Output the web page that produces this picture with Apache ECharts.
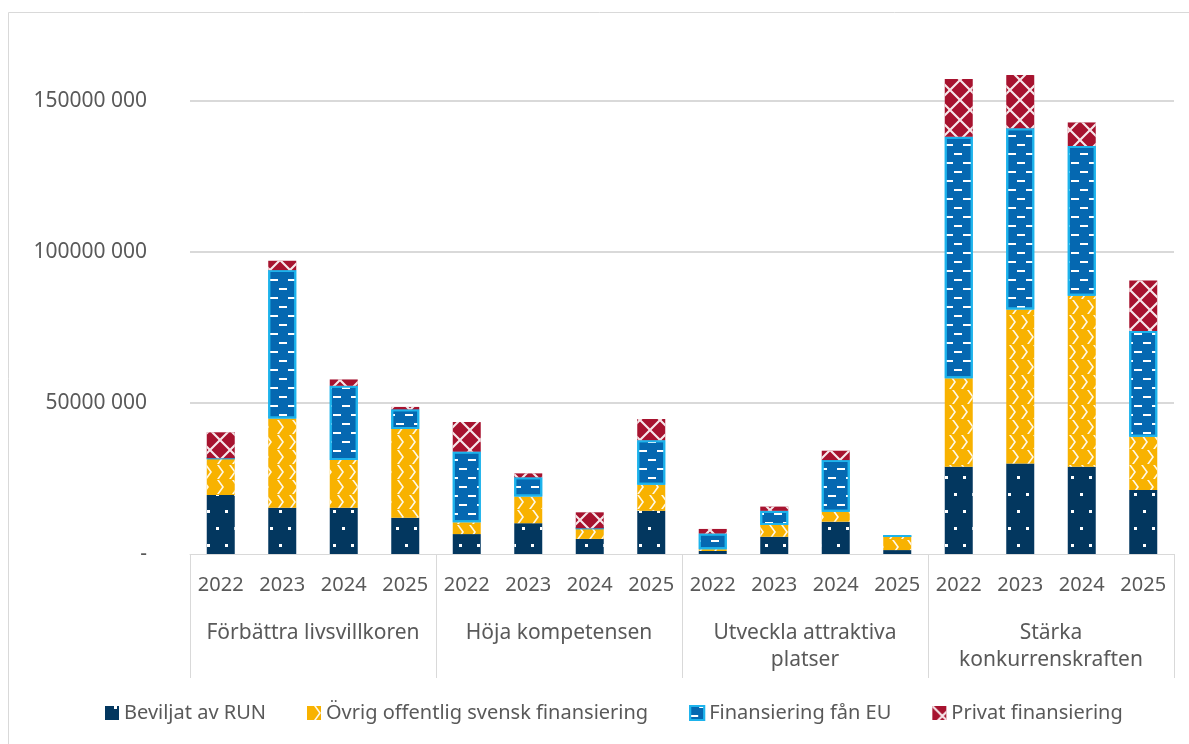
<!DOCTYPE html>
<html>
<head>
<meta charset="utf-8">
<script src="https://cdn.jsdelivr.net/npm/echarts@6/dist/echarts.min.js"></script>
<style>
  html, body { margin: 0; padding: 0; background: #fff; }
  #chart { width: 1189px; height: 744px; }
</style>
</head>
<body>
<div id="chart"></div>
<script>
// data (values in SEK)
const years = ['2022', '2023', '2024', '2025']
const groups = ['Förbättra livsvillkoren', 'Höja kompetensen', 'Utveckla attraktiva\nplatser', 'Stärka\nkonkurrenskraften']
const seriesNames = ['Beviljat av RUN', 'Övrig offentlig svensk finansiering', 'Finansiering fån EU', 'Privat finansiering']

const run = [19.5, 15.3, 15.3, 12.0, 6.6, 10.2, 5.0, 14.3, 1.0, 5.7, 10.7, 1.3, 28.9, 30.0, 28.9, 21.2]
const ovrig = [12.2, 29.6, 15.8, 29.4, 3.9, 8.8, 3.5, 8.6, 0.6, 3.9, 3.3, 4.7, 29.3, 51.0, 56.6, 17.6]
const eu = [0, 49.1, 24.6, 6.5, 23.4, 6.4, 0, 14.8, 5.2, 4.7, 17.1, 0, 80.0, 60.0, 49.6, 35.0]
const privat = [8.6, 3.1, 2.1, 0.8, 9.8, 1.3, 5.3, 7.0, 1.5, 1.4, 3.1, 0, 19.1, 17.6, 7.8, 16.8]

const yearLabels = groups.flatMap(() => years)

const chart = echarts.init(document.getElementById('chart'))

const M = 1000000
const font = 'Noto Sans'

// Swedish-ish thousands formatting like the original: 150000 000
function fmt(v) {
  if (v === 0) return '-'
  return Math.round(v / 1000) + ' 000'
}

const colors = ['#03375f', '#f8b200', '#0568b1', '#a7132f']

const decals = [
  // dots
  { color: '#ffffff', symbol: 'rect', symbolSize: 1, dashArrayX: [[3, 15], [0, 9, 3, 6]], dashArrayY: [3, 14] },
  // wavy lines
  { color: 'rgba(255,255,255,0.9)', symbol: 'path://M0,0 L2,0 L7,7 L2,14 L0,14 L5,7 Z', symbolSize: 1, dashArrayX: [[9, 3], [0, 6, 9, 0]], dashArrayY: [14, 1] },
  // dashes
  { color: '#ffffff', symbol: 'rect', symbolSize: 1, dashArrayX: [[8, 10], [0, 9, 8, 1]], dashArrayY: [2, 7] },
  // crossing lattice
  { color: 'rgba(255,255,255,0.9)', symbol: 'path://M0,0 L1.5,0 L10,8.5 L18.5,0 L20,0 L20,1.5 L11.5,10 L20,18.5 L20,20 L18.5,20 L10,11.5 L1.5,20 L0,20 L0,18.5 L8.5,10 L0,1.5 Z', symbolSize: 1, dashArrayX: [20, 0], dashArrayY: [20, 0] }
]

const dataSets = [run, ovrig, eu, privat]

const series = dataSets.map((arr, i) => ({
  name: seriesNames[i],
  type: 'bar',
  stack: 'total',
  barWidth: 28,
  data: arr.map(v => v * M),
  itemStyle: {
    color: colors[i],
    decal: decals[i],
    borderColor: i === 2 ? '#1db3ec' : null,
    borderWidth: i === 2 ? 2 : 0
  }
}))

chart.setOption({
  animation: false,
  aria: { enabled: false },
  textStyle: { fontFamily: font },
  graphic: [{
    type: 'rect',
    shape: { x: 8.5, y: 12.5, width: 1200, height: 800 },
    style: { fill: 'none', stroke: '#d9d9d9', lineWidth: 1 },
    silent: true
  }],
  legend: {
    bottom: 16,
    left: 100,
    itemWidth: 14,
    itemHeight: 14,
    itemGap: 41,
    icon: 'rect',
    textStyle: { fontFamily: font, fontSize: 20, color: '#595959' },
    data: seriesNames
  },
  grid: { left: 190, right: 15, top: 25.5, bottom: 190 },
  xAxis: [
    {
      type: 'category',
      data: yearLabels,
      position: 'bottom',
      axisLine: { show: true, lineStyle: { color: '#d9d9d9', width: 1 } },
      axisTick: { show: false },
      axisLabel: { interval: 0, margin: 21, fontSize: 20, color: '#595959', fontFamily: font }
    },
    {
      type: 'category',
      data: groups,
      position: 'bottom',
      axisLine: { show: false },
      axisTick: { show: true, length: 124, lineStyle: { color: '#d9d9d9', width: 1 } },
      axisLabel: { interval: 0, margin: 66, fontSize: 21, lineHeight: 27, color: '#595959', fontFamily: font, align: 'center' }
    }
  ],
  yAxis: {
    type: 'value',
    min: 0,
    max: 175 * M,
    interval: 50 * M,
    axisLine: { show: false },
    axisTick: { show: false },
    splitLine: { show: true, showMinLine: false, showMaxLine: false, lineStyle: { color: '#d9d9d9', width: 2 } },
    axisLabel: {
      showMaxLabel: false,
      formatter: fmt,
      fontSize: 21,
      color: '#595959',
      fontFamily: font,
      margin: 43
    }
  },
  series: series
})
</script>
</body>
</html>
